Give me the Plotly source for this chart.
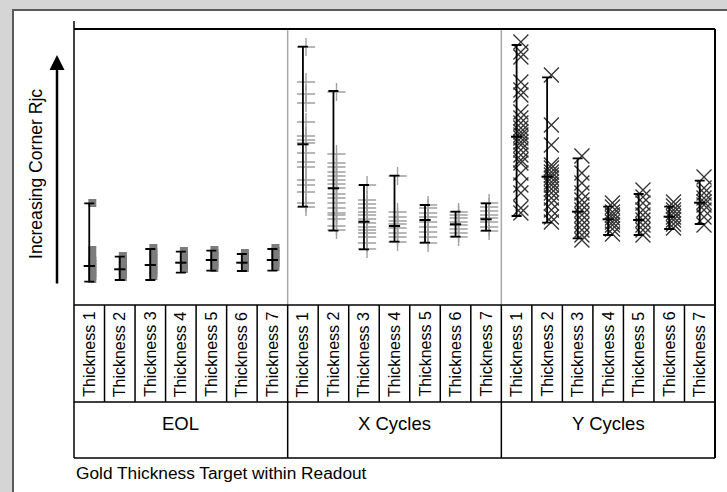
import plotly.graph_objects as go

groups = ["EOL", "X Cycles", "Y Cycles"]
levels = ["Thickness 1", "Thickness 2", "Thickness 3", "Thickness 4",
          "Thickness 5", "Thickness 6", "Thickness 7"]

# Corner Rjc in arbitrary units (0 = bottom of the plot frame)
eol_points = [
    [102, 55, 47, 44, 41, 38, 35, 32, 29, 26],
    [49, 46, 43, 40, 37, 34, 31, 28],
    [57, 53, 50, 47, 44, 41, 38, 35, 32, 29],
    [54, 51, 48, 45, 42, 39, 36],
    [55, 52, 49, 46, 43, 40, 37],
    [52, 49, 46, 43, 40, 37],
    [57, 54, 51, 48, 45, 42, 38],
]
eol_high = [101.7, 48.3, 56, 53.3, 54.3, 51, 56]
eol_low = [23.3, 25, 25, 32.3, 34.3, 34, 34.3]
eol_mean = [39, 35.7, 40, 42.3, 45, 42.3, 45]

x_points = [
    [258, 223, 211, 202, 183, 169, 165, 162, 152, 143, 138, 125, 120, 113, 102, 98],
    [213, 151, 142, 138, 133, 129, 125, 121, 117, 111, 107, 102, 97, 92, 90, 86, 79, 75],
    [120, 105, 101, 97, 93, 90, 86, 82, 78, 75, 72, 68, 62, 56],
    [129, 93, 88, 84, 81, 77, 72, 68, 63],
    [100, 97, 92, 88, 83, 78, 73, 68, 62],
    [93, 90, 87, 83, 80, 76, 72, 68],
    [102, 98, 94, 90, 87, 83, 78, 74],
]
x_high = [258.3, 214, 120, 129.3, 100, 93.3, 101.7]
x_low = [98.3, 74.3, 55.7, 63.3, 62.3, 68.3, 74.3]
x_mean = [160.7, 116.7, 83.3, 79, 85, 80.7, 85.7]

y_points = [
    [263, 253, 248, 223, 215, 210, 193, 187, 182, 177, 173, 170, 167, 163, 160,
     155, 150, 145, 142, 132, 120, 112, 97, 92],
    [230, 180, 160, 140, 137, 133, 130, 127, 123, 120, 116, 112, 107, 102, 95, 88, 83],
    [149, 132, 122, 112, 105, 100, 95, 90, 85, 80, 75, 70, 65],
    [102, 98, 93, 90, 87, 83, 80, 76, 71],
    [115, 108, 102, 95, 90, 85, 80, 75, 70],
    [103, 99, 95, 92, 88, 85, 81, 77],
    [128, 117, 112, 107, 103, 100, 95, 88, 80],
]
y_high = [260, 227.7, 146.7, 98.3, 111, 98.3, 124.3]
y_low = [89, 82.3, 66.7, 70, 70, 76, 81]
y_mean = [168.3, 128.3, 93.3, 85.7, 85, 88.3, 102.3]

FONT = "Liberation Sans, Arial, Helvetica, sans-serif"
W, H = 727, 492
ML, MR, MT, MB = 74, 12, 29, 187
PW = W - ML - MR
PH = H - MT - MB
n_lv = len(levels)
n_all = n_lv * len(groups)


def px_x(p):
    return (p - ML) / PW


def px_y(p):
    return (H - MB - p) / PH


series = [
    (eol_points, eol_low, eol_high, eol_mean,
     dict(symbol="square", size=8, color="#7c7c7c"), 0.10),
    (x_points, x_low, x_high, x_mean,
     dict(symbol="cross-thin", size=13, color="#a0a0a0",
          line=dict(color="#a0a0a0", width=1.4)), 0.10),
    (y_points, y_low, y_high, y_mean,
     dict(symbol="x-thin", size=15, color="#333333",
          line=dict(color="#333333", width=1.3)), 0.14),
]

fig = go.Figure()
for gi, (pts, lo, hi, mn, mk, off) in enumerate(series):
    xs, ys = [], []
    for li, vals in enumerate(pts):
        xs += [gi * n_lv + li + off] * len(vals)
        ys += vals
    fig.add_trace(go.Scatter(x=xs, y=ys, mode="markers", marker=mk,
                             hoverinfo="y"))
for gi, (pts, lo, hi, mn, mk, off) in enumerate(series):
    idx = [gi * n_lv + li for li in range(n_lv)]
    fig.add_trace(go.Scatter(
        x=idx, y=mn, mode="markers",
        marker=dict(symbol="line-ew", size=8, color="black",
                    line=dict(color="black", width=2)),
        error_y=dict(type="data", symmetric=False,
                     array=[h - m for h, m in zip(hi, mn)],
                     arrayminus=[m - l for m, l in zip(mn, lo)],
                     color="black", thickness=1.8, width=5),
        hoverinfo="y"))

shapes = []
# white panel
shapes.append(dict(type="rect", xref="paper", yref="paper", layer="below",
                   x0=px_x(13), x1=px_x(740), y0=px_y(510), y1=px_y(10),
                   fillcolor="white", line=dict(color="#5a5a5a", width=2)))
y_row1 = px_y(402)
y_row2 = px_y(458)
blk = dict(color="black", width=1.5)
# gray dividers inside plot
for k in (n_lv, 2 * n_lv):
    shapes.append(dict(type="line", xref="paper", yref="paper",
                       x0=k / n_all, x1=k / n_all, y0=0, y1=1,
                       line=dict(color="#a8a8a8", width=1.5)))
# column boundaries in label rows
for k in range(1, n_all):
    y_end = y_row2 if k % n_lv == 0 else y_row1
    shapes.append(dict(type="line", xref="paper", yref="paper",
                       x0=k / n_all, x1=k / n_all, y0=0, y1=y_end, line=blk))
# frame
shapes.append(dict(type="line", xref="paper", yref="paper", x0=0, x1=1,
                   y0=1, y1=1, line=dict(color="black", width=2)))
shapes.append(dict(type="line", xref="paper", yref="paper", x0=0, x1=1,
                   y0=0, y1=0, line=blk))
shapes.append(dict(type="line", xref="paper", yref="paper", x0=0, x1=1,
                   y0=y_row1, y1=y_row1, line=blk))
shapes.append(dict(type="line", xref="paper", yref="paper", x0=0, x1=1,
                   y0=y_row2, y1=y_row2, line=blk))
shapes.append(dict(type="line", xref="paper", yref="paper", x0=0, x1=0,
                   y0=px_y(21), y1=y_row2, line=blk))
shapes.append(dict(type="line", xref="paper", yref="paper", x0=1, x1=1,
                   y0=1, y1=y_row2, line=dict(color="black", width=2)))

ann = []
for gi, g in enumerate(groups):
    for li, lv in enumerate(levels):
        ann.append(dict(x=gi * n_lv + li, xref="x", y=px_y(354.5), yref="paper",
                        xanchor="center", yanchor="middle",
                        text=lv, textangle=-90, showarrow=False,
                        font=dict(family=FONT, size=16, color="black")))
    ann.append(dict(x=gi * n_lv + (n_lv - 1) / 2, xref="x", y=px_y(423),
                    yref="paper", xanchor="center", yanchor="middle",
                    text=g, showarrow=False,
                    font=dict(family=FONT, size=18.5, color="black")))
ann.append(dict(x=0, xref="paper", xanchor="left", y=px_y(473), yref="paper",
                yanchor="middle",
                text="Gold Thickness Target within Readout", showarrow=False,
                font=dict(family=FONT, size=17.3, color="black")))
ann.append(dict(x=px_x(36), xref="paper", y=px_y(174), yref="paper",
                xanchor="center", yanchor="middle",
                text="Increasing Corner Rjc", textangle=-90, showarrow=False,
                font=dict(family=FONT, size=17.6, color="black")))
ann.append(dict(x=px_x(57), xref="paper", y=px_y(55), yref="paper",
                text="", showarrow=True, ax=0, ay=230, arrowhead=2,
                arrowsize=1.2, arrowwidth=2.5, arrowcolor="black", standoff=0))

fig.update_layout(
    width=W, height=H, margin=dict(l=ML, r=MR, t=MT, b=MB),
    paper_bgcolor="#d5d5d5", plot_bgcolor="white", showlegend=False,
    xaxis=dict(range=[-0.5, n_all - 0.5], showticklabels=False, showgrid=False,
               zeroline=False, showline=False, ticks=""),
    yaxis=dict(range=[0, PH], showticklabels=False, showgrid=False,
               zeroline=False, showline=False, ticks=""),
    shapes=shapes, annotations=ann,
)
fig.write_html("out.html")
